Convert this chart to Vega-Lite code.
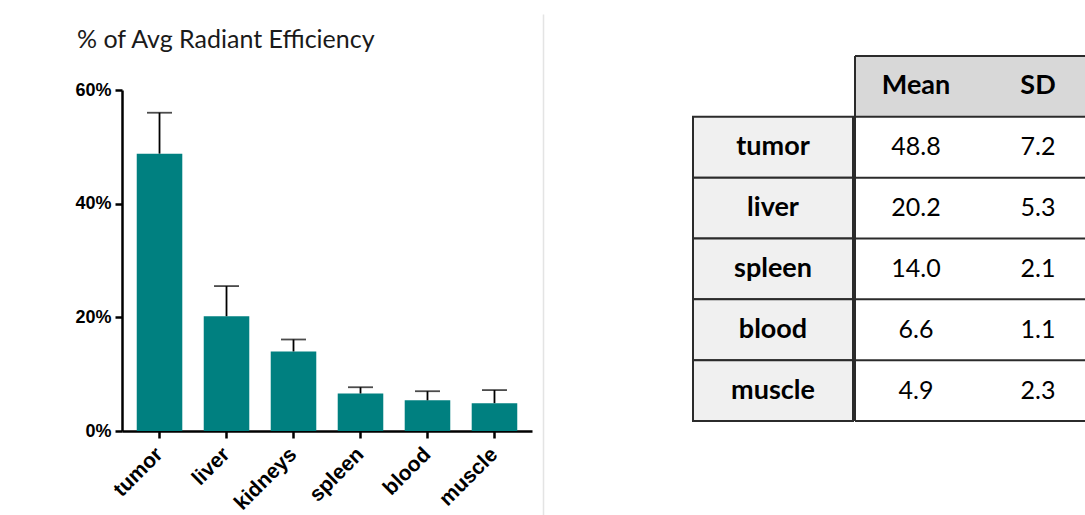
{
  "$schema": "https://vega.github.io/schema/vega-lite/v6.json",
  "padding": {"left": 74, "top": 14, "right": 0, "bottom": 0},
  "background": "white",
  "config": {"view": {"stroke": null}, "font": "Lato"},
  "datasets": {
    "bars": [
      {"organ": "tumor", "mean": 48.8, "hi": 56.0},
      {"organ": "liver", "mean": 20.2, "hi": 25.5},
      {"organ": "kidneys", "mean": 14.0, "hi": 16.1},
      {"organ": "spleen", "mean": 6.6, "hi": 7.7},
      {"organ": "blood", "mean": 5.4, "hi": 7.0},
      {"organ": "muscle", "mean": 4.9, "hi": 7.2}
    ],
    "table": [
      {"organ": "tumor", "Mean": 48.8, "SD": 7.2},
      {"organ": "liver", "Mean": 20.2, "SD": 5.3},
      {"organ": "spleen", "Mean": 14.0, "SD": 2.1},
      {"organ": "blood", "Mean": 6.6, "SD": 1.1},
      {"organ": "muscle", "Mean": 4.9, "SD": 2.3}
    ],
    "header": [
      {"organ": "head", "stat": "Mean"},
      {"organ": "head", "stat": "SD"}
    ]
  },
  "spacing": 0,
  "hconcat": [
    {
      "spacing": 0,
      "vconcat": [
        {"width": 10, "height": 14, "data": {"values": [{}]}, "mark": {"type": "text"}, "encoding": {"text": {"value": ""}}},
        {
          "width": 410,
          "height": 341,
          "data": {"name": "bars"},
          "title": {"text": "% of Avg Radiant Efficiency", "anchor": "start", "frame": "bounds", "orient": "top", "font": "Lato", "fontSize": 25, "fontWeight": "normal", "color": "#1a1a1a", "baseline": "alphabetic", "offset": 8, "dx": 2},
          "encoding": {
            "x": {
              "field": "organ", "type": "nominal", "sort": null,
              "scale": {"paddingInner": 0.32, "paddingOuter": 0.22},
              "axis": {"title": null, "labelAngle": -45, "labelAlign": "right", "labelBaseline": "middle", "labelFont": "Liberation Sans", "labelFontWeight": "bold", "labelFontSize": 21, "labelColor": "#000", "domainColor": "#000", "domainWidth": 2.5, "tickColor": "#000", "tickWidth": 2.5, "tickSize": 7, "labelPadding": 13}
            }
          },
          "layer": [
            {
              "mark": {"type": "bar", "color": "#008080"},
              "encoding": {
                "y": {
                  "field": "mean", "type": "quantitative",
                  "scale": {"domain": [0, 60], "nice": false},
                  "axis": {"title": null, "values": [0, 20, 40, 60], "labelExpr": "datum.value + '%'", "labelFont": "Liberation Sans", "labelFontWeight": "bold", "labelFontSize": 18, "labelColor": "#000", "domainColor": "#000", "domainWidth": 2.5, "tickColor": "#000", "tickWidth": 2.5, "tickSize": 7, "labelPadding": 4, "grid": false}
                }
              }
            },
            {
              "mark": {"type": "rule", "color": "#000", "strokeWidth": 1.8},
              "encoding": {"y": {"field": "mean", "type": "quantitative"}, "y2": {"field": "hi"}}
            },
            {
              "mark": {"type": "tick", "color": "#000", "thickness": 1.8, "size": 25},
              "encoding": {"y": {"field": "hi", "type": "quantitative"}}
            }
          ]
        }
      ]
    },
    {
      "width": 160,
      "height": 501,
      "data": {"values": [{}]},
      "mark": {"type": "text"},
      "encoding": {
        "text": {"value": ""},
        "y": {"datum": 0, "type": "quantitative", "scale": {"domain": [0, 1]}, "axis": {"orient": "left", "offset": -11, "domainColor": "#e4e4e4", "domainWidth": 1.5, "ticks": false, "labels": false, "title": null, "grid": false}}
      }
    },
    {
      "spacing": 0,
      "vconcat": [
        {"width": 10, "height": 41, "data": {"values": [{}]}, "mark": {"type": "text"}, "encoding": {"text": {"value": ""}}},
        {
          "spacing": 0,
          "hconcat": [
            {
              "width": 160,
              "height": 365,
              "data": {"name": "table"},
              "encoding": {
                "y": {"field": "organ", "type": "nominal", "scale": {"domain": ["head", "tumor", "liver", "spleen", "blood", "muscle"], "paddingInner": 0, "paddingOuter": 0}, "axis": null}
              },
              "layer": [
                {"mark": {"type": "rect", "fill": "#f0f0f0", "stroke": "#2b2b2b", "strokeWidth": 2}},
                {"mark": {"type": "text", "font": "Lato", "fontSize": 27, "fontWeight": "bold", "color": "#000"}, "encoding": {"text": {"field": "organ"}}}
              ]
            },
            {
              "width": 233,
              "height": 365,
              "layer": [
                {
                  "data": {"name": "header"},
                  "mark": {"type": "rect", "fill": "#d8d8d8", "clip": true},
                  "encoding": {
                    "x": {"field": "stat", "type": "nominal", "scale": {"domain": ["Mean", "SD"], "range": [0, 244], "paddingInner": 0, "paddingOuter": 0}, "axis": null},
                    "y": {"field": "organ", "type": "nominal", "scale": {"domain": ["head", "tumor", "liver", "spleen", "blood", "muscle"], "paddingInner": 0, "paddingOuter": 0}, "axis": null}
                  }
                },
                {
                  "data": {"name": "header"},
                  "mark": {"type": "text", "font": "Lato", "fontSize": 27, "fontWeight": "bold", "color": "#000"},
                  "encoding": {
                    "x": {"field": "stat", "type": "nominal"},
                    "y": {"field": "organ", "type": "nominal"},
                    "text": {"field": "stat"}
                  }
                },
                {
                  "data": {"name": "table"},
                  "transform": [{"fold": ["Mean", "SD"], "as": ["stat", "value"]}],
                  "mark": {"type": "text", "font": "Lato", "fontSize": 25, "color": "#000"},
                  "encoding": {
                    "x": {"field": "stat", "type": "nominal"},
                    "y": {"field": "organ", "type": "nominal"},
                    "text": {"field": "value", "type": "quantitative", "format": ".1f"}
                  }
                },
                {
                  "data": {"name": "header"},
                  "mark": {"type": "rule", "color": "#2b2b2b", "strokeWidth": 2},
                  "encoding": {"y": {"field": "organ", "type": "nominal", "bandPosition": 0}}
                },
                {
                  "data": {"name": "table"},
                  "mark": {"type": "rule", "color": "#2b2b2b", "strokeWidth": 2},
                  "encoding": {"y": {"field": "organ", "type": "nominal", "bandPosition": 0}}
                },
                {
                  "data": {"name": "header"},
                  "mark": {"type": "rule", "color": "#2b2b2b", "strokeWidth": 2},
                  "encoding": {"y": {"datum": "muscle", "type": "nominal", "bandPosition": 1}}
                },
                {
                  "data": {"name": "header"},
                  "mark": {"type": "rule", "color": "#2b2b2b", "strokeWidth": 2},
                  "encoding": {"x": {"datum": "Mean", "type": "nominal", "bandPosition": 0}}
                }
              ]
            }
          ]
        }
      ]
    }
  ]
}
